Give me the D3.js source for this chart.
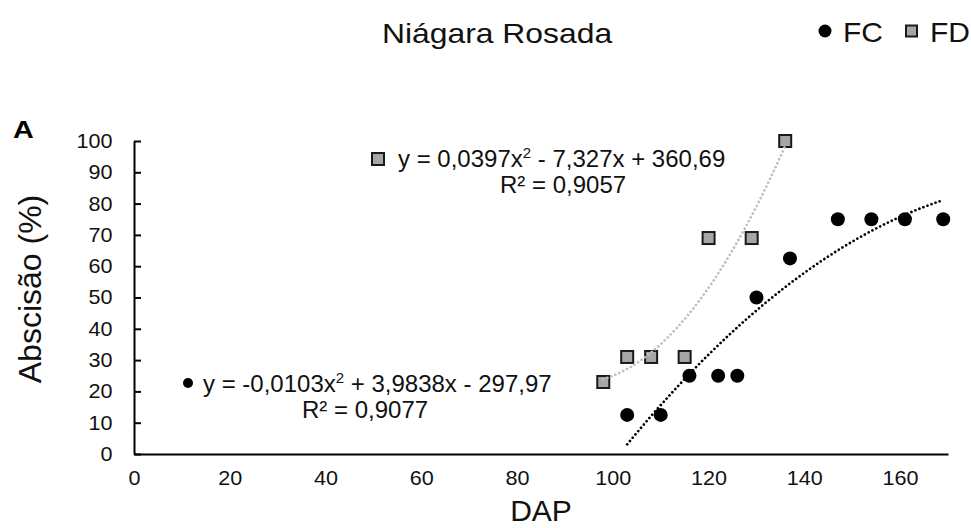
<!DOCTYPE html>
<html>
<head>
<meta charset="utf-8">
<script src="https://cdn.jsdelivr.net/npm/d3@7"></script>
<style>
  html, body { margin: 0; padding: 0; background: #fff; }
  svg { display: block; font-family: "Liberation Sans", Arial, sans-serif; }
</style>
</head>
<body>
<div class="canvas"></div>
<script>
// data
const fcDAP = [103, 110, 116, 122, 126, 130, 137, 147, 154, 161, 169]
const fcAbs = [12.5, 12.5, 25, 25, 25, 50, 62.5, 75, 75, 75, 75]
const fdDAP = [98, 103, 108, 115, 120, 129, 136]
const fdAbs = [23, 31, 31, 31, 69, 69, 100]

// polynomial trendlines (a, b, c) as printed on the chart
const fcFit = [-0.0103, 3.9838, -297.97]
const fdFit = [0.0397, -7.327, 360.69]

const xTicks = [0, 20, 40, 60, 80, 100, 120, 140, 160]
const yTicks = [0, 10, 20, 30, 40, 50, 60, 70, 80, 90, 100]

const width = 971
const height = 528

const margin = { top: 141, right: 23, bottom: 74, left: 134 }
const graphWidth = width - margin.left - margin.right
const graphHeight = height - margin.top - margin.bottom

const svg = d3.select(".canvas")
    .append("svg")
    .attr("width", width)
    .attr("height", height)

const graph = svg.append("g")
    .attr("transform", `translate(${margin.left}, ${margin.top})`)

const scaleX = d3.scaleLinear()
    .domain([0, 170])
    .range([0, graphWidth])

const scaleY = d3.scaleLinear()
    .domain([0, 100])
    .range([graphHeight, 0])

// axes
const xAxisGroup = graph.append("g")
    .attr("transform", `translate(0, ${graphHeight})`)
const yAxisGroup = graph.append("g")

const x_axis = d3.axisBottom(scaleX)
    .tickValues(xTicks)
    .tickSize(0)
    .tickPadding(17)
    .tickSizeOuter(0)

const y_axis = d3.axisLeft(scaleY)
    .tickValues(yTicks)
    .tickSize(-7)
    .tickSizeOuter(0)
    .tickPadding(20)

xAxisGroup.call(x_axis)
yAxisGroup.call(y_axis)

xAxisGroup.select(".domain").attr("stroke", "#000").attr("stroke-width", 2)
yAxisGroup.select(".domain").attr("stroke", "#000").attr("stroke-width", 2)
yAxisGroup.selectAll(".tick line").attr("stroke", "#000").attr("stroke-width", 2)

// the source picture is a bit wider than tall, so the labels are stretched sideways
graph.selectAll(".tick text")
    .attr("fill", "#111")
    .attr("transform", "scale(1.08, 1)")
    .style("font-size", "20px")
    .style("font-family", "'Liberation Sans', Arial, sans-serif")

// markers
const fcData = fcDAP.map((d, i) => ({ x: d, y: fcAbs[i] }))
const fdData = fdDAP.map((d, i) => ({ x: d, y: fdAbs[i] }))

graph.selectAll("rect.fd")
    .data(fdData)
    .enter()
    .append("rect")
    .attr("class", "fd")
    .attr("x", d => scaleX(d.x) - 6)
    .attr("y", d => scaleY(d.y) - 6)
    .attr("width", 12)
    .attr("height", 12)
    .attr("fill", "#a6a6a6")
    .attr("stroke", "#1a1a1a")
    .attr("stroke-width", 2)

graph.selectAll("circle.fc")
    .data(fcData)
    .enter()
    .append("circle")
    .attr("class", "fc")
    .attr("cx", d => scaleX(d.x))
    .attr("cy", d => scaleY(d.y))
    .attr("r", 7)
    .attr("fill", "#000")

// trendlines
const poly = (c, x) => c[0] * x * x + c[1] * x + c[2]
const line = d3.line()
    .x(d => scaleX(d[0]))
    .y(d => scaleY(d[1]))

const fitPoints = (c, xs) => {
    const lo = d3.min(xs), hi = d3.max(xs)
    return d3.range(lo, hi + 0.01, 0.5).map(x => [x, poly(c, x)])
}

graph.append("path")
    .datum(fitPoints(fdFit, fdDAP))
    .attr("d", line)
    .attr("fill", "none")
    .attr("stroke", "#bfbfbf")
    .attr("stroke-width", 2.7)
    .attr("stroke-linecap", "round")
    .attr("stroke-dasharray", "0.01 4.3")

graph.append("path")
    .datum(fitPoints(fcFit, fcDAP))
    .attr("d", line)
    .attr("fill", "none")
    .attr("stroke", "#000")
    .attr("stroke-width", 2.7)
    .attr("stroke-linecap", "round")
    .attr("stroke-dasharray", "0.01 4.3")

// text helper: position with a sideways stretch
const label = (x, y, size, sx, txt) => svg.append("text")
    .attr("transform", `translate(${x}, ${y}) scale(${sx}, 1)`)
    .attr("fill", "#111")
    .style("font-size", size + "px")
    .text(txt)

// equation labels
const eq = (x, y, parts) => {
    const t = svg.append("text")
        .attr("x", x)
        .attr("y", y)
        .attr("fill", "#111")
        .style("font-size", "24px")
    parts.forEach(p => {
        if (p.sup) {
            t.append("tspan").attr("dy", -9).style("font-size", "15px").text(p.sup)
            t.append("tspan").attr("dy", 9).text(p.after)
        } else {
            t.append("tspan").text(p.text)
        }
    })
    return t
}

svg.append("rect")
    .attr("x", 372).attr("y", 153)
    .attr("width", 12).attr("height", 12)
    .attr("fill", "#a6a6a6").attr("stroke", "#1a1a1a").attr("stroke-width", 2)
eq(398, 167, [{ text: "y = 0,0397x" }, { sup: "2", after: " - 7,327x + 360,69" }])
eq(500, 193, [{ text: "R² = 0,9057" }])

svg.append("circle")
    .attr("cx", 188).attr("cy", 383).attr("r", 5).attr("fill", "#000")
eq(203, 392, [{ text: "y = -0,0103x" }, { sup: "2", after: "  + 3,9838x - 297,97" }])
eq(302, 418, [{ text: "R² = 0,9077" }])

// title and legend
label(382, 43, 27, 1.18, "Niágara Rosada")

svg.append("circle")
    .attr("cx", 825).attr("cy", 31).attr("r", 6.5).attr("fill", "#000")
label(843, 42, 27, 1.11, "FC")
svg.append("rect")
    .attr("x", 906).attr("y", 25.5).attr("width", 11).attr("height", 11)
    .attr("fill", "#a6a6a6").attr("stroke", "#1a1a1a").attr("stroke-width", 2)
label(930, 42, 27, 1.11, "FD")

label(13, 138, 24, 1.2, "A")
    .attr("fill", "#000")
    .style("font-weight", "bold")

// axis titles
svg.append("text")
    .attr("x", margin.left + graphWidth / 2)
    .attr("y", 521)
    .attr("text-anchor", "middle")
    .attr("fill", "#111")
    .style("font-size", "30px")
    .text("DAP")

svg.append("text")
    .attr("transform", `translate(41, 289) rotate(-90)`)
    .attr("text-anchor", "middle")
    .attr("fill", "#111")
    .style("font-size", "32px")
    .text("Abscisão (%)")
</script>
</body>
</html>
